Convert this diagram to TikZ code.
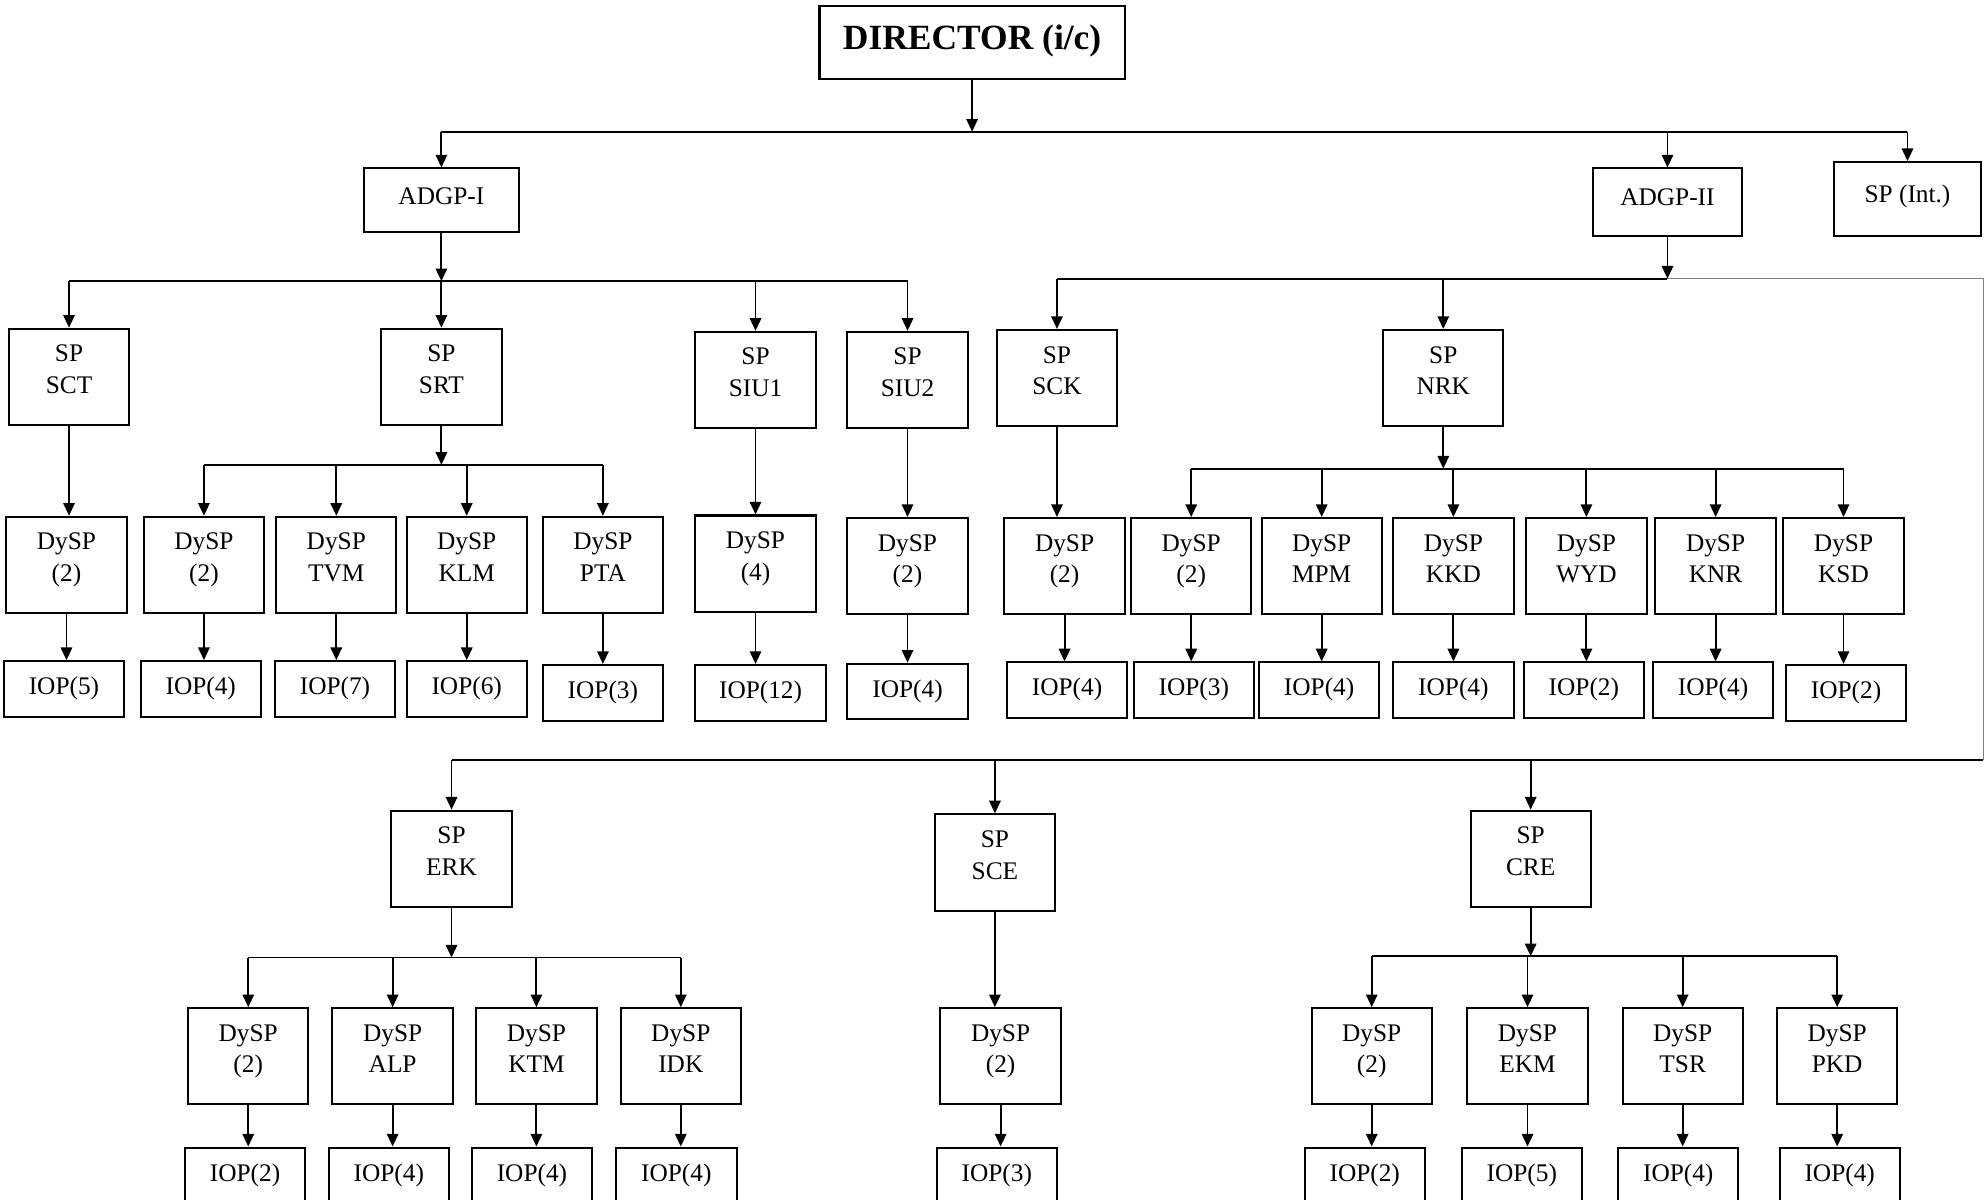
\documentclass[tikz,border=0pt]{standalone}
\usepackage{fontspec}
\setmainfont{Liberation Serif}
\usetikzlibrary{arrows.meta}

\tikzset{
  post/.style={draw, line width=0.8pt, minimum width=47.5pt, minimum height=38pt,
    inner sep=0pt, align=center, text depth=6pt, font=\fontsize{10}{12.5}\selectfont},
  iop/.style={post, minimum height=22pt, text depth=2.5pt},
  arr/.style={-{Triangle[length=5pt,width=4.5pt]}, line width=0.75pt},
  bus/.style={line width=0.75pt}
}

\begin{document}
\begin{tikzpicture}[x=0.5pt,y=-0.5pt]
\clip (0,0) rectangle (1568,947);

% top levels
\node[post, minimum width=120.5pt, minimum height=28.5pt, text depth=4pt,
  font=\fontsize{14}{16}\selectfont\bfseries] (dir) at (767.5,33.5) {DIRECTOR (i/c)};
\node[post, minimum width=61.5pt, minimum height=25pt, text depth=3.5pt] (adgpI) at (348.5,158) {ADGP-I};
\node[post, minimum width=58.5pt, minimum height=26.5pt, text depth=3.5pt] (adgpII) at (1316.5,159.5) {ADGP-II};
\node[post, minimum width=58pt, minimum height=29pt, text depth=4pt] (spint) at (1506,157) {SP (Int.)};

% SP row
\node[post] (sct) at (54.5,297.5) {SP\\SCT};
\node[post] (srt) at (348.5,297.5) {SP\\SRT};
\node[post] (siu1) at (596.5,300) {SP\\SIU1};
\node[post] (siu2) at (716.5,300) {SP\\SIU2};
\node[post] (sck) at (834.5,298.5) {SP\\SCK};
\node[post] (nrk) at (1139.5,298.5) {SP\\NRK};

% DySP row
\node[post] (dsct) at (52.5,446) {DySP\\(2)};
\node[post] (dsrt) at (161,446) {DySP\\(2)};
\node[post] (dtvm) at (265.5,446) {DySP\\TVM};
\node[post] (dklm) at (368.5,446) {DySP\\KLM};
\node[post] (dpta) at (476,446) {DySP\\PTA};
\node[post] (dsiu1) at (596.5,445) {DySP\\(4)};
\node[post] (dsiu2) at (716.5,447) {DySP\\(2)};
\node[post] (dsck) at (840.5,447) {DySP\\(2)};
\node[post] (dnrk) at (940.5,447) {DySP\\(2)};
\node[post] (dmpm) at (1043.5,447) {DySP\\MPM};
\node[post] (dkkd) at (1147.5,447) {DySP\\KKD};
\node[post] (dwyd) at (1252.5,447) {DySP\\WYD};
\node[post] (dknr) at (1354.5,447) {DySP\\KNR};
\node[post] (dksd) at (1455.5,447) {DySP\\KSD};

% IOP row
\node[iop] (isct) at (50.5,544) {IOP(5)};
\node[iop] (isrt) at (158.5,544) {IOP(4)};
\node[iop] (itvm) at (264.5,544) {IOP(7)};
\node[iop] (iklm) at (368.5,544) {IOP(6)};
\node[iop] (ipta) at (476,547) {IOP(3)};
\node[iop, minimum width=51.5pt] (isiu1) at (600.5,547) {IOP(12)};
\node[iop] (isiu2) at (716.5,546) {IOP(4)};
\node[iop] (isck) at (842.5,545) {IOP(4)};
\node[iop] (inrk) at (942.5,545) {IOP(3)};
\node[iop] (impm) at (1041.5,545) {IOP(4)};
\node[iop] (ikkd) at (1147.5,545) {IOP(4)};
\node[iop] (iwyd) at (1250.5,545) {IOP(2)};
\node[iop] (iknr) at (1352.5,545) {IOP(4)};
\node[iop] (iksd) at (1457.5,547) {IOP(2)};

% lower part
\node[post] (erk) at (356.5,678) {SP\\ERK};
\node[post] (sce) at (785.5,681) {SP\\SCE};
\node[post] (cre) at (1208.5,678) {SP\\CRE};

\node[post] (derk) at (196,834) {DySP\\(2)};
\node[post] (dalp) at (310,834) {DySP\\ALP};
\node[post] (dktm) at (423.5,834) {DySP\\KTM};
\node[post] (didk) at (537.5,834) {DySP\\IDK};
\node[post] (dsce) at (790,834) {DySP\\(2)};
\node[post] (dcre) at (1083,834) {DySP\\(2)};
\node[post] (dekm) at (1206,834) {DySP\\EKM};
\node[post] (dtsr) at (1328.5,834) {DySP\\TSR};
\node[post] (dpkd) at (1450.5,834) {DySP\\PKD};

\node[iop] (ierk) at (193.5,928) {IOP(2)};
\node[iop] (ialp) at (307,928) {IOP(4)};
\node[iop] (iktm) at (420,928) {IOP(4)};
\node[iop] (iidk) at (534,928) {IOP(4)};
\node[iop] (isce) at (787,928) {IOP(3)};
\node[iop] (icre) at (1077.5,928) {IOP(2)};
\node[iop] (iekm) at (1201.5,928) {IOP(5)};
\node[iop] (itsr) at (1325,928) {IOP(4)};
\node[iop] (ipkd) at (1452.5,928) {IOP(4)};

% bus lines
\coordinate (busdir) at (0,104);
\coordinate (busI) at (0,222);
\coordinate (busII) at (0,220);
\coordinate (bussrt) at (0,367);
\coordinate (busnrk) at (0,370);
\coordinate (buslow) at (0,600);
\coordinate (buserk) at (0,756);
\coordinate (buscre) at (0,755);
\coordinate (edge) at (1566,0);

\draw[bus]
(adgpI.north |- busdir) -- (spint.north |- busdir)
(sct.north |- busI) -- (siu2.north |- busI)
(sck.north |- busII) -- (adgpII.south |- busII)
(dsrt.north |- bussrt) -- (dpta.north |- bussrt)
(dnrk.north |- busnrk) -- (dksd.north |- busnrk)
(edge |- buslow) -- (erk.north |- buslow)
(derk.north |- buserk) -- (didk.north |- buserk)
(dcre.north |- buscre) -- (dpkd.north |- buscre);

\draw[line width=0.4pt, gray]
(adgpII.south |- busII) -- (edge |- busII) -- (edge |- buslow);

% arrows
\draw[arr] (dir.south) -- (dir.south |- busdir);
\draw[arr] (adgpI.north |- busdir) -- (adgpI.north);
\draw[arr] (adgpII.north |- busdir) -- (adgpII.north);
\draw[arr] (spint.north |- busdir) -- (spint.north);
\draw[arr] (adgpI.south) -- (adgpI.south |- busI);
\draw[arr] (adgpII.south) -- (adgpII.south |- busII);
\draw[arr] (sct.north |- busI) -- (sct.north);
\draw[arr] (srt.north |- busI) -- (srt.north);
\draw[arr] (siu1.north |- busI) -- (siu1.north);
\draw[arr] (siu2.north |- busI) -- (siu2.north);
\draw[arr] (sck.north |- busII) -- (sck.north);
\draw[arr] (nrk.north |- busII) -- (nrk.north);
\draw[arr] (erk.north |- buslow) -- (erk.north);
\draw[arr] (sce.north |- buslow) -- (sce.north);
\draw[arr] (cre.north |- buslow) -- (cre.north);

\draw[arr] (sct.south) -- (sct.south |- dsct.north);
\draw[arr] (srt.south) -- (srt.south |- bussrt);
\draw[arr] (dsrt.north |- bussrt) -- (dsrt.north);
\draw[arr] (dtvm.north |- bussrt) -- (dtvm.north);
\draw[arr] (dklm.north |- bussrt) -- (dklm.north);
\draw[arr] (dpta.north |- bussrt) -- (dpta.north);
\draw[arr] (siu1.south) -- (siu1.south |- dsiu1.north);
\draw[arr] (siu2.south) -- (siu2.south |- dsiu2.north);
\draw[arr] (sck.south) -- (sck.south |- dsck.north);
\draw[arr] (nrk.south) -- (nrk.south |- busnrk);
\draw[arr] (dnrk.north |- busnrk) -- (dnrk.north);
\draw[arr] (dmpm.north |- busnrk) -- (dmpm.north);
\draw[arr] (dkkd.north |- busnrk) -- (dkkd.north);
\draw[arr] (dwyd.north |- busnrk) -- (dwyd.north);
\draw[arr] (dknr.north |- busnrk) -- (dknr.north);
\draw[arr] (dksd.north |- busnrk) -- (dksd.north);
\draw[arr] (erk.south) -- (erk.south |- buserk);
\draw[arr] (derk.north |- buserk) -- (derk.north);
\draw[arr] (dalp.north |- buserk) -- (dalp.north);
\draw[arr] (dktm.north |- buserk) -- (dktm.north);
\draw[arr] (didk.north |- buserk) -- (didk.north);
\draw[arr] (sce.south) -- (sce.south |- dsce.north);
\draw[arr] (cre.south) -- (cre.south |- buscre);
\draw[arr] (dcre.north |- buscre) -- (dcre.north);
\draw[arr] (dekm.north |- buscre) -- (dekm.north);
\draw[arr] (dtsr.north |- buscre) -- (dtsr.north);
\draw[arr] (dpkd.north |- buscre) -- (dpkd.north);

\draw[arr] (dsct.south) -- (dsct.south |- isct.north);
\draw[arr] (dsrt.south) -- (dsrt.south |- isrt.north);
\draw[arr] (dtvm.south) -- (dtvm.south |- itvm.north);
\draw[arr] (dklm.south) -- (dklm.south |- iklm.north);
\draw[arr] (dpta.south) -- (dpta.south |- ipta.north);
\draw[arr] (dsiu1.south) -- (dsiu1.south |- isiu1.north);
\draw[arr] (dsiu2.south) -- (dsiu2.south |- isiu2.north);
\draw[arr] (dsck.south) -- (dsck.south |- isck.north);
\draw[arr] (dnrk.south) -- (dnrk.south |- inrk.north);
\draw[arr] (dmpm.south) -- (dmpm.south |- impm.north);
\draw[arr] (dkkd.south) -- (dkkd.south |- ikkd.north);
\draw[arr] (dwyd.south) -- (dwyd.south |- iwyd.north);
\draw[arr] (dknr.south) -- (dknr.south |- iknr.north);
\draw[arr] (dksd.south) -- (dksd.south |- iksd.north);
\draw[arr] (derk.south) -- (derk.south |- ierk.north);
\draw[arr] (dalp.south) -- (dalp.south |- ialp.north);
\draw[arr] (dktm.south) -- (dktm.south |- iktm.north);
\draw[arr] (didk.south) -- (didk.south |- iidk.north);
\draw[arr] (dsce.south) -- (dsce.south |- isce.north);
\draw[arr] (dcre.south) -- (dcre.south |- icre.north);
\draw[arr] (dekm.south) -- (dekm.south |- iekm.north);
\draw[arr] (dtsr.south) -- (dtsr.south |- itsr.north);
\draw[arr] (dpkd.south) -- (dpkd.south |- ipkd.north);
\end{tikzpicture}
\end{document}
